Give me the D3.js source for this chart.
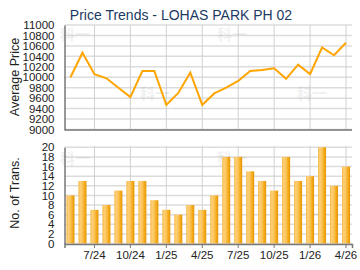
<!DOCTYPE html>
<html>
<head>
<meta charset="utf-8">
<script src="https://cdn.jsdelivr.net/npm/d3@7"></script>
<style>
  body { margin: 0; background: #fff; }
  svg { display: block; font-family: "Liberation Sans", Arial, sans-serif; }
</style>
</head>
<body>
<div class="chart"></div>
<script>
// months 5/24 .. 4/26
const months = ["5/24","6/24","7/24","8/24","9/24","10/24","11/24","12/24",
    "1/25","2/25","3/25","4/25","5/25","6/25","7/25","8/25","9/25","10/25",
    "11/25","12/25","1/26","2/26","3/26","4/26"]
const tickMonths = ["7/24","10/24","1/25","4/25","7/25","10/25","1/26","4/26"]
const avgPrice = [10000,10470,10060,9980,9800,9620,10120,10120,9470,9700,10090,9470,
    9690,9800,9930,10120,10140,10170,9970,10240,10060,10570,10420,10660]
const transCount = [10,13,7,8,11,13,13,9,7,6,8,7,10,18,18,15,13,11,18,13,14,20,12,16]
const priceTicks = d3.range(9000, 11001, 200)
const transTicks = d3.range(0, 21, 2)

const width = 360
const height = 270
const left = 64.5, right = 352

const svg = d3.select(".chart").append("svg")
    .attr("width", width)
    .attr("height", height)
    .attr("viewBox", [0, 0, width, height])

// bar gradient
const grad = svg.append("defs").append("linearGradient")
    .attr("id", "barGrad")
    .attr("x1", "0%").attr("x2", "100%").attr("y1", "0%").attr("y2", "0%")
grad.selectAll("stop")
    .data([[0, "#f2b33a"], [0.2, "#fdd07a"], [0.45, "#fcc65e"], [0.8, "#f2a716"], [1, "#e49300"]])
    .join("stop")
    .attr("offset", d => d[0])
    .attr("stop-color", d => d[1])

const x = d3.scaleBand().domain(months).range([left, right])

// Title
svg.append("text")
    .attr("x", 181).attr("y", 20)
    .attr("text-anchor", "middle")
    .attr("fill", "#1d3a63")
    .style("font-size", "14px")
    .text("Price Trends - LOHAS PARK PH 02")

// faint watermark behind the plots
function watermark(g, pts) {
    g.selectAll("text.wm")
        .data(pts)
        .join("text")
        .attr("class", "wm")
        .attr("x", d => d[0]).attr("y", d => d[1])
        .attr("fill", "#000").attr("opacity", 0.05)
        .style("font-size", "15px")
        .style("font-family", "'Noto Sans CJK SC', sans-serif")
        .style("font-weight", "bold")
        .text("科一")
}

// ---- price panel ----
const y1 = d3.scaleLinear().domain([9000, 11000]).range([129.5, 25])
const priceG = svg.append("g")

priceG.append("g")
    .selectAll("line")
    .data(priceTicks)
    .join("line")
    .attr("x1", left).attr("x2", right)
    .attr("y1", d => y1(d)).attr("y2", d => y1(d))
    .attr("stroke", "#dcdcdc").attr("stroke-width", 1.5)

priceG.append("g")
    .selectAll("line")
    .data(tickMonths)
    .join("line")
    .attr("x1", d => x(d) + x.bandwidth() / 2).attr("x2", d => x(d) + x.bandwidth() / 2)
    .attr("y1", 25).attr("y2", 130)
    .attr("stroke", "#d0d0d0").attr("stroke-width", 1)

watermark(priceG, [[60, 40], [217, 40], [140, 99], [297, 99]])

priceG.append("g")
    .attr("transform", `translate(${left},0)`)
    .call(d3.axisLeft(y1).tickValues(priceTicks).tickSize(0).tickPadding(10).tickFormat(d3.format("d")))
    .call(g => g.select(".domain").attr("stroke", "#777").attr("stroke-width", 1.5))
    .call(g => g.selectAll("text").attr("fill", "#222").style("font-size", "11.5px").style("font-family", "inherit"))

priceG.append("line")
    .attr("x1", left).attr("x2", right).attr("y1", 130).attr("y2", 130)
    .attr("stroke", "#777").attr("stroke-width", 1.5)

const line = d3.line()
    .x((d, i) => x(months[i]) + x.bandwidth() / 2)
    .y(d => y1(d))

priceG.append("path")
    .datum(avgPrice)
    .attr("d", line)
    .attr("fill", "none")
    .attr("stroke", "#ffa500")
    .attr("stroke-width", 2)
    .attr("stroke-linejoin", "miter")

svg.append("text")
    .attr("transform", "translate(19,77) rotate(-90)")
    .attr("text-anchor", "middle")
    .attr("fill", "#222")
    .style("font-size", "12.5px")
    .text("Average Price")

// ---- transactions panel ----
const y2 = d3.scaleLinear().domain([0, 20]).range([243.5, 147.3])
const transG = svg.append("g")

transG.append("g")
    .selectAll("line")
    .data(transTicks)
    .join("line")
    .attr("x1", left).attr("x2", right)
    .attr("y1", d => y2(d)).attr("y2", d => y2(d))
    .attr("stroke", "#dcdcdc").attr("stroke-width", 1.5)

transG.append("g")
    .selectAll("line")
    .data(tickMonths)
    .join("line")
    .attr("x1", d => x(d) + x.bandwidth() / 2).attr("x2", d => x(d) + x.bandwidth() / 2)
    .attr("y1", 146).attr("y2", 244)
    .attr("stroke", "#d0d0d0").attr("stroke-width", 1)

watermark(transG, [[60, 164], [217, 164], [140, 220], [297, 220]])

const barW = 8
transG.append("g")
    .selectAll("rect")
    .data(transCount)
    .join("rect")
    .attr("x", (d, i) => x(months[i]) + x.bandwidth() / 2 - barW / 2)
    .attr("width", barW)
    .attr("y", d => y2(d))
    .attr("height", d => y2(0) - y2(d))
    .attr("fill", "url(#barGrad)")

transG.append("g")
    .attr("transform", `translate(${left},0)`)
    .call(d3.axisLeft(y2).tickValues(transTicks).tickSize(0).tickPadding(10))
    .call(g => g.select(".domain").attr("stroke", "#777").attr("stroke-width", 1.5))
    .call(g => g.selectAll("text").attr("fill", "#222").style("font-size", "11.5px").style("font-family", "inherit"))

transG.append("g")
    .attr("transform", "translate(0,244)")
    .call(d3.axisBottom(x).tickValues(tickMonths).tickSize(4).tickPadding(3))
    .call(g => g.select(".domain").attr("stroke", "#777").attr("stroke-width", 1.5))
    .call(g => g.selectAll(".tick line").attr("stroke", "#777"))
    .call(g => g.selectAll("text").attr("fill", "#222").style("font-size", "11.5px").style("font-family", "inherit"))

svg.append("text")
    .attr("transform", "translate(19,193) rotate(-90)")
    .attr("text-anchor", "middle")
    .attr("fill", "#222")
    .style("font-size", "12.5px")
    .text("No. of Trans.")
</script>
</body>
</html>
